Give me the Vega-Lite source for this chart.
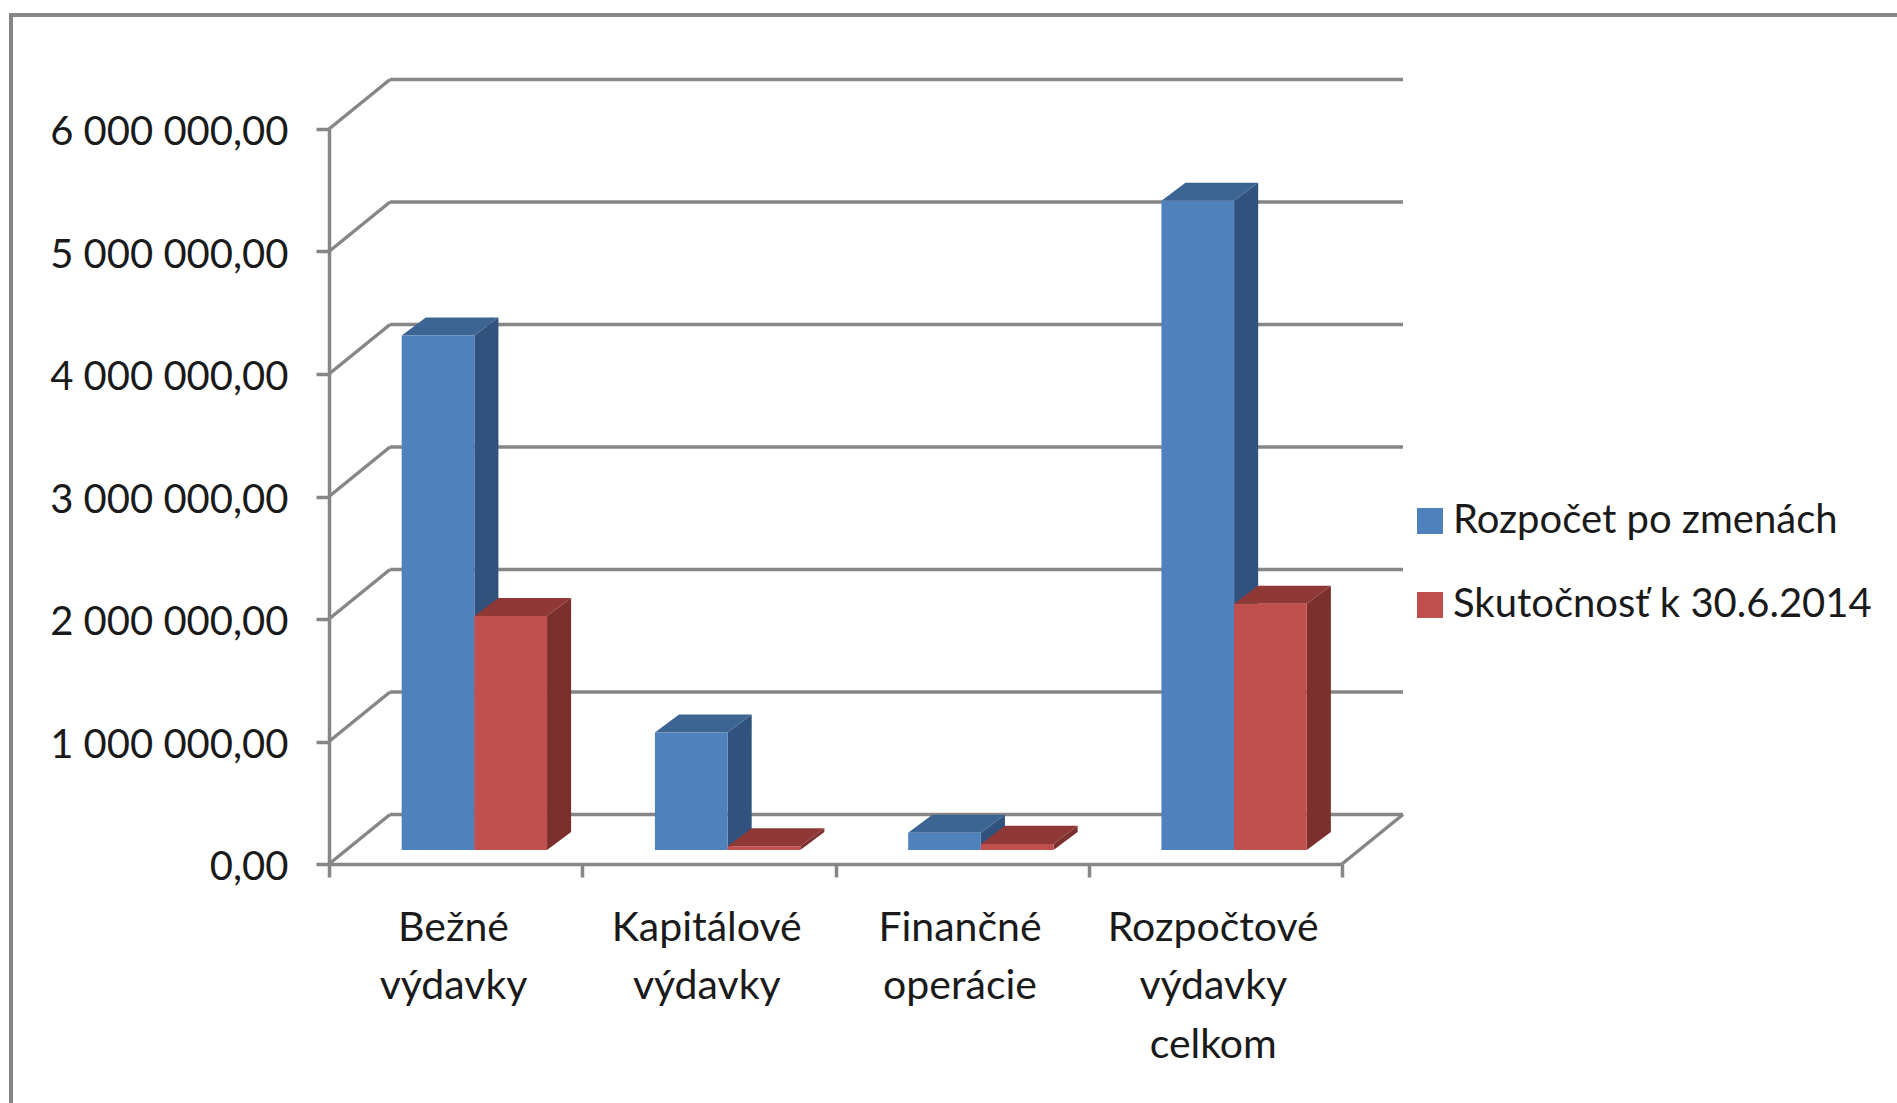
{
"$schema":"https://vega.github.io/schema/vega-lite/v6.json",
"width":1892,"height":1093,
"autosize":{"type":"none"},
"padding":{"left":11,"top":15,"right":0,"bottom":0},
"background":"white",
"config":{"view":{"stroke":"#868686","strokeWidth":4},"axis":{"grid":false,"title":null}},
"data":{"values":[
{"category":"Bežné výdavky","series":"Rozpočet po zmenách","value":4200000},
{"category":"Bežné výdavky","series":"Skutočnosť k 30.6.2014","value":1910000},
{"category":"Kapitálové výdavky","series":"Rozpočet po zmenách","value":960000},
{"category":"Kapitálové výdavky","series":"Skutočnosť k 30.6.2014","value":30000},
{"category":"Finančné operácie","series":"Rozpočet po zmenách","value":140000},
{"category":"Finančné operácie","series":"Skutočnosť k 30.6.2014","value":50000},
{"category":"Rozpočtové výdavky celkom","series":"Rozpočet po zmenách","value":5300000},
{"category":"Rozpočtové výdavky celkom","series":"Skutočnosť k 30.6.2014","value":2010000}
]},
"layer":[
{"data":{"values":[{"tick":0},{"tick":1000000},{"tick":2000000},{"tick":3000000},{"tick":4000000},{"tick":5000000},{"tick":6000000}]},
 "transform":[{"calculate":"0","as":"a"},{"calculate":"4","as":"b"}],
 "mark":{"type":"rule","stroke":"#868686","strokeWidth":3.5,"xOffset":61,"x2Offset":61,"yOffset":-49.5},
 "encoding":{"x":{"field":"a","type":"quantitative"},"x2":{"field":"b"},"y":{"field":"tick","type":"quantitative"}}},
{"data":{"values":[{"tick":0},{"tick":1000000},{"tick":2000000},{"tick":3000000},{"tick":4000000},{"tick":5000000},{"tick":6000000}]},
 "transform":[{"calculate":"0","as":"a"}],
 "mark":{"type":"rule","stroke":"#868686","strokeWidth":3.5,"x2Offset":61,"y2Offset":-49.5},
 "encoding":{"x":{"field":"a","type":"quantitative"},"x2":{"field":"a"},"y":{"field":"tick","type":"quantitative"},"y2":{"field":"tick"}}},
{"data":{"values":[{"tick":0}]},
 "transform":[{"calculate":"4","as":"b"}],
 "mark":{"type":"rule","stroke":"#868686","strokeWidth":3.5,"x2Offset":61,"y2Offset":-49.5},
 "encoding":{"x":{"field":"b","type":"quantitative"},"x2":{"field":"b"},"y":{"field":"tick","type":"quantitative"},"y2":{"field":"tick"}}},
{"transform":[
  {"calculate":"[0,1]","as":"f"},{"flatten":["f"]},
  {"calculate":"indexof(['Bežné výdavky','Kapitálové výdavky','Finančné operácie','Rozpočtové výdavky celkom'],datum.category)","as":"slot"},
  {"calculate":"datum.series=='Rozpočet po zmenách'?0:1","as":"si"},
  {"calculate":"datum.slot+(datum.si+2)*0.287+datum.f*0.095","as":"sx"},
  {"calculate":"datum.value+datum.f*147000","as":"sy"},
  {"calculate":"datum.f*147000","as":"sy2"},
  {"calculate":"datum.category+datum.series","as":"key"}],
 "mark":{"type":"area","yOffset":-14,"y2Offset":-14,"interpolate":"linear"},
 "encoding":{
  "x":{"field":"sx","type":"quantitative"},
  "y":{"field":"sy","type":"quantitative"},"y2":{"field":"sy2"},
  "detail":{"field":"key","type":"nominal"},
  "color":{"field":"series","type":"nominal","legend":null,"scale":{"domain":["Rozpočet po zmenách","Skutočnosť k 30.6.2014"],"range":["#31527C","#7B302E"]}}}},
{"transform":[
  {"calculate":"[0,1]","as":"f"},{"flatten":["f"]},
  {"calculate":"indexof(['Bežné výdavky','Kapitálové výdavky','Finančné operácie','Rozpočtové výdavky celkom'],datum.category)","as":"slot"},
  {"calculate":"datum.series=='Rozpočet po zmenách'?0:1","as":"si"},
  {"calculate":"datum.slot+(datum.si+1)*0.287+datum.f*0.095","as":"tx"},
  {"calculate":"datum.slot+(datum.si+2)*0.287+datum.f*0.095","as":"tx2"},
  {"calculate":"datum.value+datum.f*147000","as":"ty"},
  {"calculate":"datum.category+datum.series","as":"key"}],
 "mark":{"type":"area","orient":"horizontal","yOffset":-14,"interpolate":"linear"},
 "encoding":{
  "y":{"field":"ty","type":"quantitative"},
  "x":{"field":"tx","type":"quantitative"},"x2":{"field":"tx2"},
  "detail":{"field":"key","type":"nominal"},
  "color":{"field":"series","type":"nominal","legend":null,"scale":{"domain":["Rozpočet po zmenách","Skutočnosť k 30.6.2014"],"range":["#3D6593","#8F3835"]}}}},
{"transform":[
  {"calculate":"indexof(['Bežné výdavky','Kapitálové výdavky','Finančné operácie','Rozpočtové výdavky celkom'],datum.category)","as":"slot"},
  {"calculate":"datum.series=='Rozpočet po zmenách'?0:1","as":"si"},
  {"calculate":"datum.slot+(datum.si+1)*0.287","as":"bx"},
  {"calculate":"datum.slot+(datum.si+2)*0.287","as":"bx2"},
  {"calculate":"0","as":"base"}],
 "mark":{"type":"rect","yOffset":-14,"y2Offset":-14},
 "encoding":{
  "x":{"field":"bx","type":"quantitative","scale":{"domain":[0,4],"range":[318,1331],"nice":false,"zero":false},"title":null,
    "axis":{"values":[0,1,2,3,4],"domainColor":"#868686","domainWidth":3.5,"grid":false,"tickColor":"#868686","tickWidth":3.5,"tickSize":13,"offset":-244,
     "labelExpr":"[['Bežné','výdavky'],['Kapitálové','výdavky'],['Finančné','operácie'],['Rozpočtové','výdavky','celkom'],''][datum.value]",
     "labelOffset":124,"labelPadding":31,"labelFont":"Lato","labelFontSize":41,"labelColor":"#1a1a1a","labelLineHeight":58.5,"labelOverlap":false,"labelFlush":false,"labelBound":false,"labelAngle":0,"labelBaseline":"top","labelAlign":"center","labelLimit":600}},
  "x2":{"field":"bx2"},
  "y":{"field":"value","type":"quantitative","scale":{"domain":[0,6000000],"range":[849,114],"nice":false,"zero":false},"title":null,
    "axis":{"values":[0,1000000,2000000,3000000,4000000,5000000,6000000],"domainColor":"#868686","domainWidth":3.5,"grid":false,"tickColor":"#868686","tickWidth":3.5,"tickSize":13,"offset":-318,
     "labelExpr":"replace(replace(format(datum.value,',.2f'),regexp(',','g'),' '),'.',',')",
     "labelPadding":28,"labelOffset":3.5,"labelFont":"Lato","labelFontSize":40,"labelColor":"#1a1a1a","labelOverlap":false,"labelFlush":false,"labelBound":false,"labelLimit":600}},
  "y2":{"field":"base"},
  "color":{"field":"series","type":"nominal","scale":{"domain":["Rozpočet po zmenách","Skutočnosť k 30.6.2014"],"range":["#4F81BD","#C0504D"]},
   "legend":{"title":null,"orient":"none","legendX":1399,"legendY":486,"symbolType":"square","symbolSize":676,"symbolStrokeWidth":0,"labelFont":"Lato","labelFontSize":40,"labelColor":"#1a1a1a","labelOffset":3,"rowPadding":44,"labelLimit":600}}}}
],
"resolve":{"scale":{"color":"independent"}}
}
